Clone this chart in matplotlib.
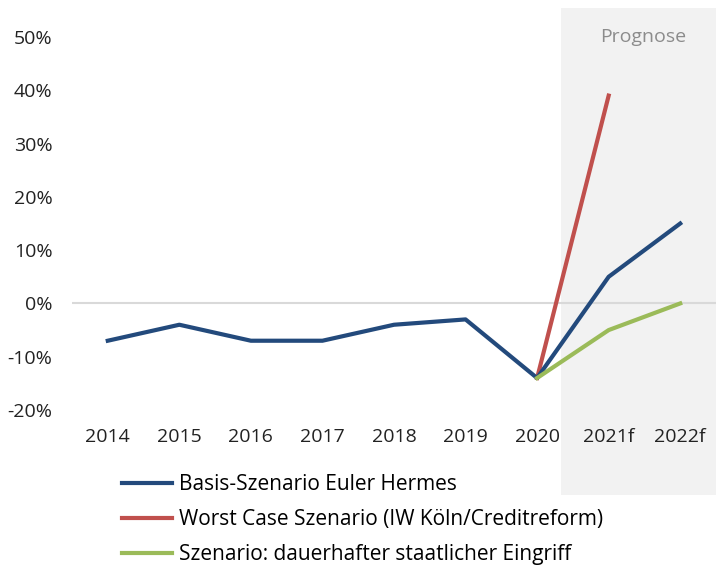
import matplotlib.pyplot as plt
from matplotlib.transforms import blended_transform_factory
from matplotlib.patches import Rectangle
from matplotlib.ticker import FuncFormatter

plt.rcParams['font.family'] = ['Open Sans', 'DejaVu Sans']

years = ['2014', '2015', '2016', '2017', '2018', '2019', '2020', '2021f', '2022f']
basis = [-7, -4, -7, -7, -4, -3, -14, 5, 15]
worst_years = ['2020', '2021f']
worst = [-14, 39]
staat_years = ['2020', '2021f', '2022f']
staat = [-14, -5, 0]

labels = ['Basis-Szenario Euler Hermes',
          'Worst Case Szenario (IW Köln/Creditreform)',
          'Szenario: dauerhafter staatlicher Eingriff']
colors = ['#234A7C', '#C0504D', '#9BBB59']

fig = plt.figure(figsize=(7.16, 5.67), dpi=100)
ax = fig.add_axes([72 / 716, 157 / 567, 644 / 716, 373 / 567])

# shaded forecast area (x in data units, y in figure units)
trans = blended_transform_factory(ax.transData, fig.transFigure)
shade = Rectangle((6.34, 1 - 495 / 567), 8.5 - 6.34, (495 - 8) / 567,
                  transform=trans, facecolor='#F2F2F2', edgecolor='none',
                  zorder=0, clip_on=False)
ax.add_patch(shade)
fig.text(643 / 716, 1 - 37 / 567, 'Prognose', ha='center', va='center',
         fontsize=14, color='#8C8C8C')

ax.axhline(0, color='#D9D9D9', linewidth=1.5, zorder=1)

x_all = list(range(len(years)))
ax.plot(x_all, basis, color=colors[0], linewidth=3, label=labels[0],
        zorder=3, clip_on=False)
ax.plot([years.index(y) for y in worst_years], worst, color=colors[1],
        linewidth=3, label=labels[1], zorder=2, clip_on=False)
ax.plot([years.index(y) for y in staat_years], staat, color=colors[2],
        linewidth=3, label=labels[2], zorder=4, clip_on=False)

ax.set_xlim(-0.5, 8.5)
ax.set_ylim(-20, 50)
ax.set_yticks(range(-20, 51, 10))
ax.yaxis.set_major_formatter(FuncFormatter(lambda v, p: f'{v:.0f}%'))
ax.set_xticks(x_all)
ax.set_xticklabels(years)
ax.tick_params(axis='both', length=0, labelsize=14, colors='#222222')
ax.tick_params(axis='y', pad=14)
ax.tick_params(axis='x', pad=13)
for s in ax.spines.values():
    s.set_visible(False)
ax.patch.set_alpha(0)

fig.legend(loc='upper left', bbox_to_anchor=(114 / 716, 1 - 466 / 567),
           frameon=False, fontsize=15, handlelength=2.4, handletextpad=0.3,
           labelspacing=0.66, borderaxespad=0)

fig.savefig('out.png', dpi=100)
